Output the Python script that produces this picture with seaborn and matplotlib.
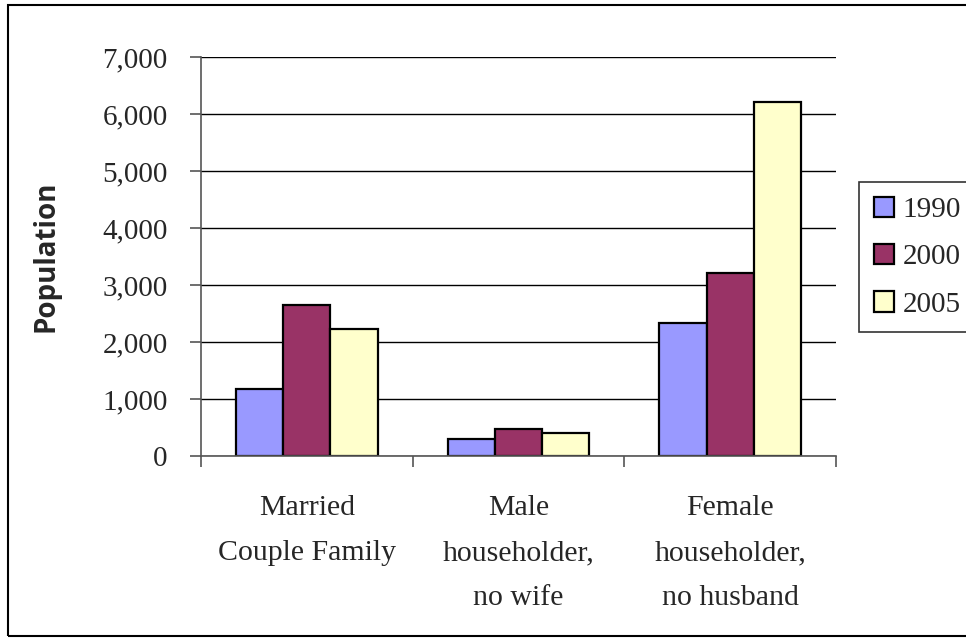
import pandas as pd
import seaborn as sns
import matplotlib.pyplot as plt
from matplotlib.patches import Rectangle
from matplotlib.ticker import FuncFormatter

# Data
categories = ["Married\nCouple Family", "Male\nhouseholder,\nno wife", "Female\nhouseholder,\nno husband"]
years = ["1990", "2000", "2005"]
pop_1990 = [1175, 300, 2330]
pop_2000 = [2650, 470, 3205]
pop_2005 = [2230, 400, 6215]
colors = ["#9999FF", "#993366", "#FFFFCC"]

rows = []
for yr, vals in zip(years, [pop_1990, pop_2000, pop_2005]):
    for cat, v in zip(categories, vals):
        rows.append({"category": cat, "year": yr, "population": v})
df = pd.DataFrame(rows)

sns.set_style("white")
plt.rcParams["font.family"] = ["Liberation Serif", "DejaVu Serif"]

fig = plt.figure(figsize=(9.66, 6.44), dpi=100)
ax = fig.add_axes([201 / 966, 1 - 456 / 644, (836 - 201) / 966, (456 - 57) / 644])

sns.barplot(data=df, x="category", y="population", hue="year", order=categories,
            hue_order=years, palette=colors, saturation=1, width=0.67,
            edgecolor="black", linewidth=1.6, ax=ax)

ax.set_ylim(0, 7000)
ax.set_xlim(-0.5, 2.5)
ax.set_yticks(range(0, 7001, 1000))
ax.yaxis.set_major_formatter(FuncFormatter(lambda v, p: f"{int(v):,}"))
ax.yaxis.grid(True, color="black", linewidth=1)
ax.set_axisbelow(True)

# tick marks between categories, labels centred
ax.set_xticks([-0.5, 0.5, 1.5, 2.5], minor=True)
ax.tick_params(axis="x", which="minor", length=8, width=1.2, color="#555555", direction="out", bottom=True)
ax.tick_params(axis="x", which="major", length=0, pad=28, labelsize=21.5)
for lab in ax.get_xticklabels():
    lab.set_linespacing(1.95)
ax.tick_params(axis="y", length=8, width=1.2, color="#555555", direction="out", left=True, labelsize=21, pad=16)

for side in ["top", "right"]:
    ax.spines[side].set_visible(False)
for side in ["left", "bottom"]:
    ax.spines[side].set_color("#555555")
    ax.spines[side].set_linewidth(1.2)

ax.set_xlabel("")
ax.set_ylabel("Population", fontsize=20, fontweight="bold", family=["Open Sans", "DejaVu Sans"], labelpad=30)

ax.legend_.remove()
handles, labels = ax.get_legend_handles_labels()
leg = fig.legend(handles, labels, loc="upper left", bbox_to_anchor=(859 / 966, 1 - 182 / 644),
                 bbox_transform=fig.transFigure, frameon=True, fancybox=False, fontsize=21,
                 handlelength=0.7, handleheight=0.7, handletextpad=0.3, labelspacing=0.72,
                 borderpad=0.5, borderaxespad=0)
leg.get_frame().set_edgecolor("black")
leg.get_frame().set_linewidth(1.2)

# outer chart border
fig.patches.append(Rectangle((8 / 966, 1 - 636 / 644), 1.1, (636 - 5) / 644, transform=fig.transFigure,
                             fill=False, edgecolor="black", linewidth=1.5))

fig.savefig("out.png", dpi=100)
